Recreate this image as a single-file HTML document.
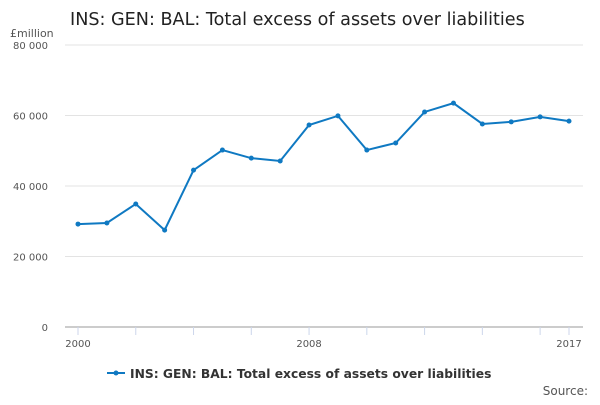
<!DOCTYPE html>
<html><head><meta charset="utf-8"><style>
body{margin:0;background:#fff;font-family:"Liberation Sans","DejaVu Sans",sans-serif}
svg text{font-family:"DejaVu Sans","Liberation Sans",sans-serif}
</style></head><body>
<svg id="chart" width="600" height="400" xmlns="http://www.w3.org/2000/svg">
<text x="70" y="25" font-size="17.6" fill="#222">INS: GEN: BAL: Total excess of assets over liabilities</text>
<text x="10" y="37" font-size="11" fill="#555">£million</text>
<g id="grid"></g><g id="xaxis"></g><g id="series"></g>
<g>
<line x1="107" y1="373" x2="125" y2="373" stroke="#0f79c2" stroke-width="2"/>
<circle cx="116" cy="373" r="2.5" fill="#0f79c2"/>
<text x="130" y="378" font-size="12.3" font-weight="bold" fill="#333">INS: GEN: BAL: Total excess of assets over liabilities</text>
</g>
<text x="588" y="395" font-size="12" fill="#555" text-anchor="end">Source:</text>
</svg>
<script>
const years=[2000,2001,2002,2003,2004,2005,2006,2007,2008,2009,2010,2011,2012,2013,2014,2015,2016,2017];
const values=[29200,29500,34900,27500,44500,50200,47900,47100,57300,59900,50200,52200,61000,63500,57600,58200,59600,58400];
const yTicks=[0,20000,40000,60000,80000];
const yTickLabels=["0","20 000","40 000","60 000","80 000"];
const xLabels=[2000,2008,2017];
const NS="http://www.w3.org/2000/svg";
const x=v=>78+(v-2000)*(569-78)/17;
const y=v=>327-v*(327-45)/80000;
function mk(t,a,p){const e=document.createElementNS(NS,t);for(const k in a)e.setAttribute(k,a[k]);p.appendChild(e);return e;}
const grid=document.getElementById('grid'),xa=document.getElementById('xaxis'),s=document.getElementById('series');
yTicks.forEach((t,i)=>{
 const l=mk('line',{x1:65,x2:583,y1:y(t),y2:y(t),stroke:i==0?'#999':'#e3e3e3','stroke-width':1},grid);
 
 
 const tx=mk('text',{x:48,y:y(t)+4,'font-size':10,fill:'#555','text-anchor':'end'},grid);
 tx.textContent=yTickLabels[i];
 
 
});
for(let yr=2000;yr<=2017;yr+=2){
 const l=mk('line',{x1:x(yr),x2:x(yr),y1:327,y2:335,stroke:'#ccd6eb'},xa);
 
 
}
const l17=mk('line',{x1:x(2017),x2:x(2017),y1:327,y2:335,stroke:'#ccd6eb'},xa);


xLabels.forEach(v=>{
 const t=mk('text',{x:x(v),y:347,'font-size':10,fill:'#555','text-anchor':'middle'},xa);
 t.textContent=v;
 
 
});
const pl=mk('polyline',{points:years.map((yr,i)=>x(yr)+','+y(values[i])).join(' '),fill:'none',stroke:'#0f79c2','stroke-width':2},s);


years.forEach((yr,i)=>{
 const c=mk('circle',{cx:x(yr),cy:y(values[i]),r:2.5,fill:'#0f79c2'},s);
 
 
});
</script>
</body></html>
